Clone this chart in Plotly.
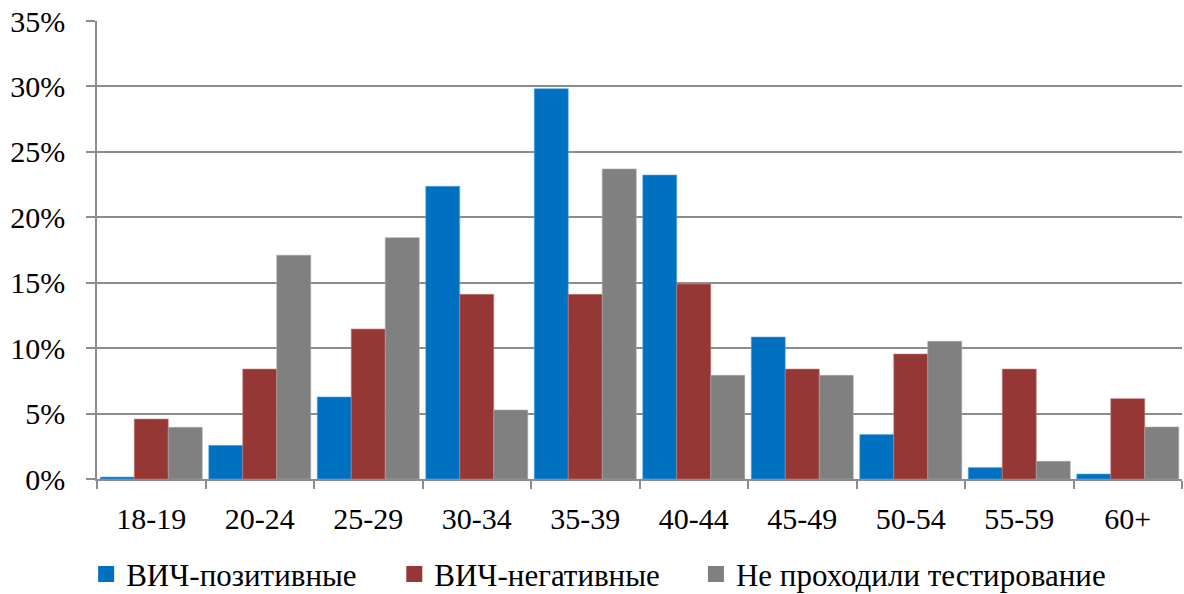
import plotly.graph_objects as go

# Age groups and share of each group (percent)
age_groups = ["18-19", "20-24", "25-29", "30-34", "35-39",
              "40-44", "45-49", "50-54", "55-59", "60+"]
hiv_positive = [0.15, 2.57, 6.27, 22.37, 29.83, 23.23, 10.85, 3.41, 0.87, 0.38]
hiv_negative = [4.58, 8.40, 11.46, 14.11, 14.11, 14.90, 8.40, 9.55, 8.40, 6.14]
not_tested = [3.95, 17.10, 18.44, 5.27, 23.69, 7.92, 7.92, 10.52, 1.35, 3.97]

series_names = ["ВИЧ-позитивные", "ВИЧ-негативные", "Не проходили тестирование"]
series_colors = ["#0070C0", "#953735", "#808080"]
series_edges = ["#5FA8E0", "#C07A78", "#A6A6A6"]
y_ticks = [0, 5, 10, 15, 20, 25, 30, 35]
y_tick_text = [f"{v}%" for v in y_ticks]

FONT = "Liberation Serif, serif"
legend_ids = ["legend", "legend2", "legend3"]
legend_x = [-0.010, 0.274, 0.552]

fig = go.Figure()
for name, vals, color, edge, lg in zip(series_names,
                                       [hiv_positive, hiv_negative, not_tested],
                                       series_colors, series_edges, legend_ids):
    fig.add_trace(go.Bar(
        x=age_groups, y=vals, name=name, showlegend=False,
        marker=dict(color=color, line=dict(color=edge, width=0.6)),
    ))
    # square key for the legend row
    fig.add_trace(go.Scatter(
        x=[None], y=[None], mode="markers", name=name, legend=lg,
        marker=dict(symbol="square", size=16, color=color),
    ))

legend_common = dict(
    orientation="h", xanchor="left", y=-0.208, yanchor="middle",
    font=dict(family=FONT, size=31, color="black"),
    itemclick=False, itemdoubleclick=False, bgcolor="rgba(0,0,0,0)",
    tracegroupgap=0,
)

fig.update_layout(
    width=1184, height=594,
    margin=dict(l=97, r=2, t=21, b=115, autoexpand=False),
    paper_bgcolor="white", plot_bgcolor="white",
    barmode="group", bargap=0.06, bargroupgap=0,
    font=dict(family=FONT, size=30, color="black"),
    legend=dict(x=legend_x[0], **legend_common),
    legend2=dict(x=legend_x[1], **legend_common),
    legend3=dict(x=legend_x[2], **legend_common),
)

fig.update_xaxes(
    type="category", showgrid=False,
    showline=True, linecolor="#8C8C8C", linewidth=1.5,
    ticks="outside", tickson="boundaries", ticklen=8,
    tickcolor="#8C8C8C", tickwidth=1.5,
    tickfont=dict(family=FONT, size=30, color="black"),
    ticklabelstandoff=12,
)

fig.update_yaxes(
    range=[0, 35], tickvals=y_ticks, ticktext=y_tick_text,
    showgrid=True, gridcolor="#8C8C8C", gridwidth=1.5,
    showline=True, linecolor="#8C8C8C", linewidth=1.5,
    ticks="outside", ticklen=9, tickcolor="#8C8C8C", tickwidth=1.5,
    tickfont=dict(family=FONT, size=30, color="black"),
    ticklabelstandoff=15, zeroline=False,
)

fig.write_html("out.html")
